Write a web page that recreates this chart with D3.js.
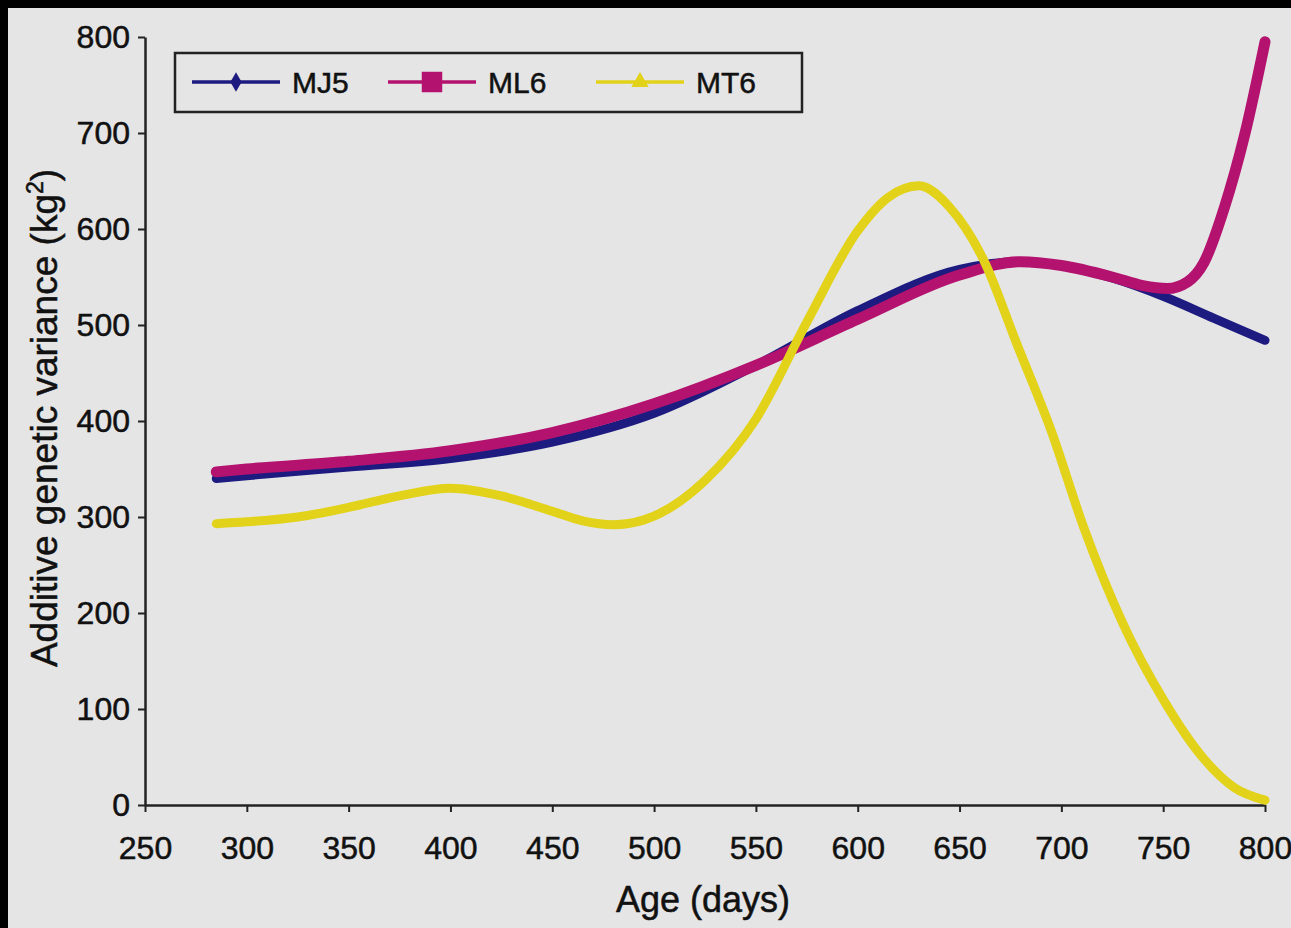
<!DOCTYPE html>
<html>
<head>
<meta charset="utf-8">
<script src="https://cdn.jsdelivr.net/npm/d3@7"></script>
<style>
  html, body { margin: 0; padding: 0; background: #000; }
  svg { display: block; }
  text { font-family: "Liberation Sans", Arial, sans-serif; fill: #111; stroke: #111; stroke-width: 0.5px; }
</style>
</head>
<body>
<div id="chart"></div>
<script>
// data
const seriesNames = ['MJ5', 'ML6', 'MT6'];

const mj5Age = [285, 300, 350, 400, 450, 500, 550, 600, 650, 680, 700, 725, 750, 775, 800];
const mj5Var = [340, 343, 352, 361, 378, 408, 458, 515, 558, 566, 562, 549, 530, 507, 484];

const ml6Age = [285, 300, 350, 400, 450, 500, 550, 600, 650, 680, 700, 725, 740, 752, 762, 770, 780, 790, 800];
const ml6Var = [347, 350, 358, 369, 388, 418, 458, 506, 552, 566, 562, 550, 541, 538, 545, 565, 622, 698, 795];

const mt6Age = [285, 300, 325, 350, 375, 400, 425, 450, 465, 480, 495, 525, 550, 575, 600, 615, 630, 645, 662, 678, 695, 711, 730, 750, 770, 785, 800];
const mt6Var = [293, 295, 300, 310, 322, 330, 322, 306, 296, 292, 297, 338, 402, 503, 598, 633, 645, 623, 567, 481, 390, 289, 190, 110, 48, 18, 5];

const xTicks = [250, 300, 350, 400, 450, 500, 550, 600, 650, 700, 750, 800];
const yTicks = [0, 100, 200, 300, 400, 500, 600, 700, 800];

const width = 1291;
const height = 928;

const svg = d3.select('#chart')
  .append('svg')
  .attr('width', width)
  .attr('height', height);

// grey page with the black strips on top and left
svg.append('rect')
  .attr('x', 8).attr('y', 8)
  .attr('width', width - 8).attr('height', height - 8)
  .attr('fill', '#e5e5e5');

const x = d3.scaleLinear().domain([250, 800]).range([145, 1265]);
const y = d3.scaleLinear().domain([0, 800]).range([805, 37]);

// axes
const xAxis = svg.append('g')
  .attr('transform', `translate(0,${y(0)})`)
  .call(d3.axisBottom(x).tickValues(xTicks).tickSize(7).tickSizeOuter(0).tickPadding(24));

const yAxis = svg.append('g')
  .attr('transform', `translate(${x(250)},0)`)
  .call(d3.axisLeft(y).tickValues(yTicks).tickSize(7).tickSizeOuter(0).tickPadding(8));

[xAxis, yAxis].forEach(g => {
  g.select('.domain').attr('stroke', '#222').attr('stroke-width', 2.5);
  g.selectAll('.tick line').attr('stroke', '#222').attr('stroke-width', 2);
  g.selectAll('.tick text')
    .attr('font-size', 32)
    .attr('font-family', '"Liberation Sans", Arial, sans-serif')
    .attr('fill', '#111');
});

// axis titles
svg.append('text')
  .attr('x', 703)
  .attr('y', 912)
  .attr('text-anchor', 'middle')
  .attr('font-size', 36)
  .text('Age (days)');

const yTitle = svg.append('text')
  .attr('transform', 'translate(57,418) rotate(-90)')
  .attr('text-anchor', 'middle')
  .attr('font-size', 37);
yTitle.append('tspan').text('Additive genetic variance (kg');
yTitle.append('tspan').attr('font-size', 23).attr('dy', -14).text('2');
yTitle.append('tspan').attr('dy', 14).text(')');

// lines
const series = [
  { name: seriesNames[0], age: mj5Age, val: mj5Var, color: '#1d1b80', width: 9 },
  { name: seriesNames[1], age: ml6Age, val: ml6Var, color: '#b3136f', width: 11 },
  { name: seriesNames[2], age: mt6Age, val: mt6Var, color: '#e2d21a', width: 9 }
];

const line = d3.line()
  .x(d => x(d[0]))
  .y(d => y(d[1]))
  .curve(d3.curveMonotoneX);

series.forEach(s => {
  svg.append('path')
    .datum(s.age.map((a, i) => [a, s.val[i]]))
    .attr('d', line)
    .attr('fill', 'none')
    .attr('stroke', s.color)
    .attr('stroke-width', s.width)
    .attr('stroke-linecap', 'round')
    .attr('stroke-linejoin', 'round');
});

// legend
const legend = svg.append('g');
legend.append('rect')
  .attr('x', 175).attr('y', 53)
  .attr('width', 627).attr('height', 59)
  .attr('fill', 'none')
  .attr('stroke', '#222')
  .attr('stroke-width', 2.5);

const legendX = [192, 388, 596];
const symbols = [d3.symbolDiamond, d3.symbolSquare, d3.symbolTriangle];
const symbolSizes = [110, 420, 130];

series.forEach((s, i) => {
  const g = legend.append('g').attr('transform', `translate(${legendX[i]},82)`);
  g.append('line')
    .attr('x1', 0).attr('x2', 88)
    .attr('stroke', s.color)
    .attr('stroke-width', 3.5);
  g.append('path')
    .attr('transform', 'translate(44,0)')
    .attr('d', d3.symbol().type(symbols[i]).size(symbolSizes[i]))
    .attr('fill', s.color);
  g.append('text')
    .attr('x', 100)
    .attr('y', 11)
    .attr('font-size', 30)
    .text(s.name);
});
</script>
</body>
</html>
